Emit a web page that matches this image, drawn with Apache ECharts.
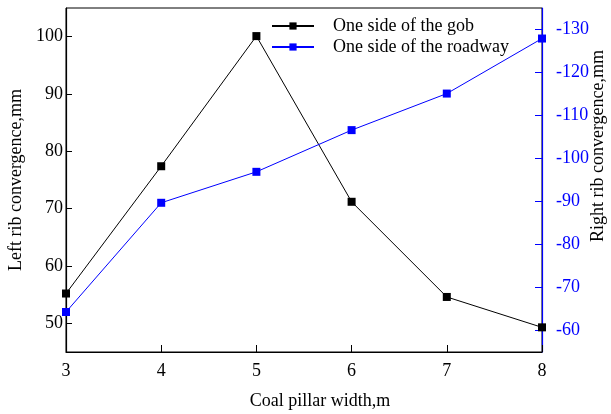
<!DOCTYPE html>
<html><head><meta charset="utf-8">
<script src="https://cdn.jsdelivr.net/npm/echarts@6/dist/echarts.min.js"></script>
<style>html,body{margin:0;padding:0;background:#fff}#c{width:611px;height:414px}</style>
</head><body><div id="c"></div>
<script>
const widths = [3, 4, 5, 6, 7, 8];
const gobValues = [55.2, 77.4, 100.1, 71.2, 54.6, 49.3];
const roadwayValues = [-64.3, -89.7, -96.9, -106.6, -115.1, -127.9];
const xTicks = [3, 4, 5, 6, 7, 8];
const leftTicks = [50, 60, 70, 80, 90, 100];
const rightTicks = [-130, -120, -110, -100, -90, -80, -70, -60];
const seriesNames = ['One side of the gob', 'One side of the roadway'];

const font = 'Liberation Serif';
const chart = echarts.init(document.getElementById('c'), null, {renderer: 'canvas'});
chart.setOption({
  animation: false,
  backgroundColor: '#fff',
  textStyle: {fontFamily: font},
  grid: {left: 66, right: 69, top: 8, bottom: 62, containLabel: false, outerBoundsMode: 'none',
         show: true, borderColor: '#000', borderWidth: 1, backgroundColor: 'transparent'},
  legend: {
    orient: 'vertical', left: 266, top: 12, itemWidth: 42, itemHeight: 9, itemGap: 3,
    textStyle: {fontFamily: font, fontSize: 18, color: '#000', padding: [0, 0, 0, 14]},
    data: seriesNames
  },
  xAxis: {
    type: 'value', min: 3, max: 8,
    name: 'Coal pillar width,m', nameLocation: 'middle', nameGap: 40,
    nameTextStyle: {fontFamily: font, fontSize: 18, color: '#000', padding: [0, 0, 0, 32]},
    axisLine: {lineStyle: {color: '#000', width: 1.2}},
    axisTick: {inside: true, length: 7, lineStyle: {color: '#000'}, customValues: xTicks},
    axisLabel: {fontFamily: font, fontSize: 18, color: '#000', margin: 10, customValues: xTicks},
    splitLine: {show: false}
  },
  yAxis: [{
    type: 'value', min: 45, max: 105, position: 'left',
    name: 'Left rib convergence,mm', nameLocation: 'middle', nameGap: 40,
    nameTextStyle: {fontFamily: font, fontSize: 18, color: '#000'},
    axisLine: {show: true, lineStyle: {color: '#000', width: 1.2}},
    axisTick: {show: true, inside: true, length: 6, lineStyle: {color: '#000'}, customValues: leftTicks},
    axisLabel: {fontFamily: font, fontSize: 18, color: '#000', margin: 3, customValues: leftTicks},
    splitLine: {show: false}
  }, {
    type: 'value', min: -135, max: -55, inverse: true, position: 'right',
    name: 'Right rib convergence,mm', nameLocation: 'middle', nameGap: 47, nameRotate: 90,
    nameMoveOverlap: false,
    nameTextStyle: {fontFamily: font, fontSize: 18, color: '#000', padding: [0, 0, 0, 68]},
    axisLine: {show: true, lineStyle: {color: '#0000ff', width: 1.2}},
    axisTick: {show: true, inside: true, length: 7, lineStyle: {color: '#0000ff'}, customValues: rightTicks},
    axisLabel: {fontFamily: font, fontSize: 18, color: '#0000ff', margin: 14, customValues: rightTicks},
    splitLine: {show: false}
  }],
  series: [{
    name: seriesNames[0], type: 'line', yAxisIndex: 0,
    data: widths.map((w, i) => [w, gobValues[i]]),
    symbol: 'rect', symbolSize: 8,
    lineStyle: {color: '#000', width: 1}, itemStyle: {color: '#000'}
  }, {
    name: seriesNames[1], type: 'line', yAxisIndex: 1,
    data: widths.map((w, i) => [w, roadwayValues[i]]),
    symbol: 'rect', symbolSize: 8,
    lineStyle: {color: '#0000ff', width: 1}, itemStyle: {color: '#0000ff'}
  }]
});
</script></body></html>
